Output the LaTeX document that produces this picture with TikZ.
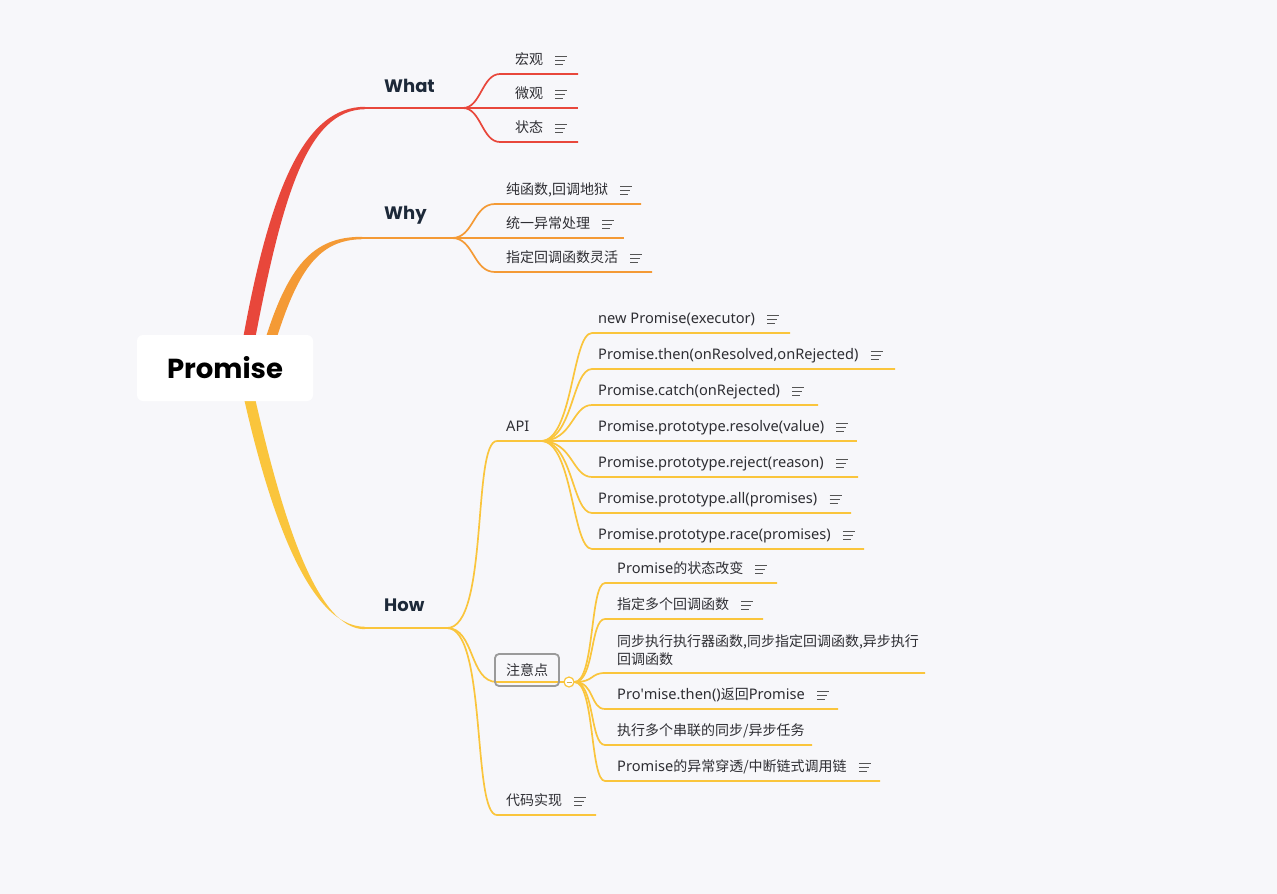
\documentclass[tikz,border=0pt]{standalone}
\usepackage{fontspec}
\setmainfont{Noto Sans}
\newfontfamily\cjkfont{Noto Sans CJK SC}
\newcommand\cjk{\cjkfont\fontsize{14}{17}\selectfont}
\newfontfamily\pop{Poppins}
\definecolor{bgc}{HTML}{F7F7FA}
\definecolor{redc}{HTML}{E8473B}
\definecolor{orangec}{HTML}{F49A35}
\definecolor{yellowc}{HTML}{FAC53C}
\definecolor{itemc}{HTML}{2E2E33}
\definecolor{titlec}{HTML}{1D2939}
\definecolor{iconc}{HTML}{555555}
\definecolor{boxc}{HTML}{9A9A9A}
\tikzset{
  item/.style={anchor=west, inner sep=0pt, font=\fontsize{14.6}{17}\selectfont, text=itemc, text height=10pt, text depth=3pt},
  title/.style={anchor=west, inner sep=0pt, font=\pop\bfseries\fontsize{18}{20}\selectfont, text=titlec},
  redl/.style={draw=redc, line width=1.7pt},
  orangel/.style={draw=orangec, line width=1.7pt},
  yellowl/.style={draw=yellowc, line width=1.7pt},
  iconl/.style={draw=iconc, line width=1.1pt},
  noteicon/.pic={\draw[iconl] (0,-4)--(12,-4) (0,0)--(10,0) (0,4)--(8,4);}
}
\newcommand\ca{20}
\newcommand\cb{20}
% #1 name, #2 line style, #3 from, #4 start x, #5 line y, #6 end x, #7 text x, #8 text, #9 icon
\newcommand\leaf[9]{%
  \coordinate (#1s) at (#4,#5);
  \coordinate (#1e) at (#6,#5);
  \node[item] (#1) at (#7,#5-13.5) {#8};
  \draw[#2] (#3) .. controls +(\ca,0) and +(-\cb,0) .. (#1s) -- (#1e);
  \ifnum#9=1 \path (#1.east) ++(12,0) pic{noteicon};\fi
}
\begin{document}
\begin{tikzpicture}[x=1pt,y=-1pt]
\fill[bgc] (0,0) rectangle (1277,894);
\useasboundingbox (0,0) rectangle (1277,894);

% main tapered branches
\coordinate (wEnd) at (365,108);
\coordinate (yEnd) at (362,238);
\coordinate (hEnd) at (365,628);
\fill[redc] (241,350) .. controls (269,190) and (304,106.7) .. (365,106.8) -- (365,109.2) .. controls (307,109.9) and (282,196) .. (253,350) -- cycle;
\fill[orangec] (262,350) .. controls (287,265) and (313,236.7) .. (362,236.8) -- (362,239.2) .. controls (318,239.9) and (297,270) .. (273,350) -- cycle;
\fill[yellowc] (241,385) .. controls (266,500) and (306,626.8) .. (365,626.8) -- (365,629.2) .. controls (314,629.8) and (279,505) .. (252,385) -- cycle;

% root
\node[fill=white, rounded corners=6pt, minimum width=176pt, minimum height=66pt, inner sep=0pt,
      font=\pop\bfseries\fontsize{27.5}{30}\selectfont, text=black] (root) at (225,368) {Promise};

% What
\node[title] (what) at (384,86) {What};
\coordinate (wJ) at (463,108);
\draw[redl] (wEnd) -- (wJ);
\renewcommand\ca{18}\renewcommand\cb{18}
\leaf{w1}{redl}{wJ}{500}{74}{578}{515}{\cjk 宏观}{1}
\leaf{w2}{redl}{wJ}{500}{108}{578}{515}{\cjk 微观}{1}
\leaf{w3}{redl}{wJ}{500}{142}{578}{515}{\cjk 状态}{1}

% Why
\node[title] (why) at (384,215) {Why};
\coordinate (yJ) at (452,238);
\draw[orangel] (yEnd) -- (yJ);
\renewcommand\ca{22}\renewcommand\cb{22}
\leaf{y1}{orangel}{yJ}{495}{204}{641}{506}{\cjk 纯函数,回调地狱}{1}
\leaf{y2}{orangel}{yJ}{495}{238}{624}{506}{\cjk 统一异常处理}{1}
\leaf{y3}{orangel}{yJ}{495}{272}{652}{506}{\cjk 指定回调函数灵活}{1}

% How
\node[title] (how) at (384,605) {How};
\coordinate (hJ) at (447,628);
\draw[yellowl] (hEnd) -- (hJ);

% API
\renewcommand\ca{42}\renewcommand\cb{25}
\coordinate (apiJ) at (541,441);
\leaf{api}{yellowl}{hJ}{497}{441}{541}{506}{API}{0}
\renewcommand\ca{32}\renewcommand\cb{20}
\leaf{a1}{yellowl}{apiJ}{592}{333}{790}{598}{new Promise(executor)}{1}
\leaf{a2}{yellowl}{apiJ}{592}{369}{895}{598}{Promise.then(onResolved,onRejected)}{1}
\leaf{a3}{yellowl}{apiJ}{592}{405}{818}{598}{Promise.catch(onRejected)}{1}
\leaf{a4}{yellowl}{apiJ}{592}{441}{857}{598}{Promise.prototype.resolve(value)}{1}
\leaf{a5}{yellowl}{apiJ}{592}{477}{858}{598}{Promise.prototype.reject(reason)}{1}
\leaf{a6}{yellowl}{apiJ}{592}{513}{851}{598}{Promise.prototype.all(promises)}{1}
\leaf{a7}{yellowl}{apiJ}{592}{549}{864}{598}{Promise.prototype.race(promises)}{1}

% 注意点
\coordinate (nS) at (497,682);
\coordinate (nC) at (569,682);
\draw[yellowl] (hJ) .. controls +(28,0) and +(-28,0) .. (nS) -- (nC);
\node[draw=boxc, line width=1.8pt, rounded corners=4pt, minimum width=64pt, minimum height=32pt, inner sep=0pt,
      font=\cjk, text=itemc] (note) at (527,670) {注意点};
\node[circle, draw=yellowc, fill=white, line width=1.2pt, minimum size=10pt, inner sep=0pt] (nCirc) at (nC) {};
\draw[draw=yellowc!70!gray, line width=1pt] ([xshift=-2.5pt]nCirc.center) -- ([xshift=2.5pt]nCirc.center);
\renewcommand\ca{20}\renewcommand\cb{15}
\leaf{n1}{yellowl}{nCirc.east}{605}{583}{777}{617}{Promise{\cjk 的状态改变}}{1}
\leaf{n2}{yellowl}{nCirc.east}{605}{619}{763}{617}{\cjk 指定多个回调函数}{1}
\coordinate (n3s) at (605,673);
\coordinate (n3e) at (925,673);
\node[anchor=west, inner sep=0pt, align=left, font=\cjkfont\fontsize{14}{18}\selectfont, text=itemc] (n3) at (617,650) {同步执行执行器函数,同步指定回调函数,异步执行\\回调函数};
\draw[yellowl] (nCirc.east) .. controls +(20,0) and +(-15,0) .. (n3s) -- (n3e);
\leaf{n4}{yellowl}{nCirc.east}{605}{709}{838}{617}{Pro\textquotesingle mise.then(){\cjk 返回}Promise}{1}
\leaf{n5}{yellowl}{nCirc.east}{605}{745}{812}{617}{\cjk 执行多个串联的同步/异步任务}{0}
\leaf{n6}{yellowl}{nCirc.east}{605}{781}{880}{617}{Promise{\cjk 的异常穿透/中断链式调用链}}{1}

% 代码实现
\renewcommand\ca{40}\renewcommand\cb{25}
\leaf{code}{yellowl}{hJ}{497}{815}{596}{506}{\cjk 代码实现}{1}
\end{tikzpicture}
\end{document}
